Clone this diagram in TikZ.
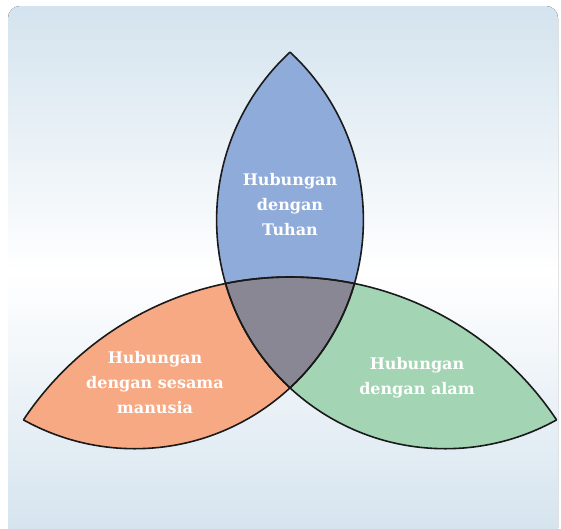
\documentclass[tikz,border=0pt]{standalone}
\usepackage{fontspec}
\setmainfont{DejaVu Serif}

\definecolor{bgblue}{HTML}{D4E3EE}
\definecolor{tuhan}{HTML}{8FABDA}
\definecolor{manusia}{HTML}{F7A983}
\definecolor{alam}{HTML}{A3D4B3}
\definecolor{inti}{HTML}{8A8795}
\definecolor{rim}{HTML}{1A1A1A}

\begin{document}
\begin{tikzpicture}[x=1pt,y=-1pt,
  txt/.style={text=white,align=center,font=\bfseries\fontsize{16}{25}\selectfont}]

\useasboundingbox (0,0) rectangle (561,528);

% background card
\fill[rounded corners=12pt,top color=bgblue,bottom color=bgblue,middle color=white]
  (8,6) rectangle (558,540);

\def\cA{(134.7,220) circle[radius=228.7pt]}
\def\cB{(445.3,220) circle[radius=228.7pt]}
\def\cC{(290,597) circle[radius=320pt]}

\newcommand{\lens}[3] % [colour][circle][circle]
{
 \begin{scope}
  \clip #2;
  \fill[#1] #3;
 \end{scope}
}
\newcommand{\edge}[2] % [clip circle][drawn circle]
{
 \begin{scope}
  \clip #1;
  \draw[rim,line width=1.6pt] #2;
 \end{scope}
}

\lens{tuhan}{\cA}{\cB}
\lens{manusia}{\cA}{\cC}
\lens{alam}{\cB}{\cC}

\begin{scope} %centre
 \clip \cA;
 \clip \cB;
 \fill[inti] \cC;
\end{scope}

\edge{\cA}{\cB}
\edge{\cB}{\cA}
\edge{\cA}{\cC}
\edge{\cC}{\cA}
\edge{\cB}{\cC}
\edge{\cC}{\cB}

\node[txt] (tuhanT) at (290,205) {Hubungan\\dengan\\Tuhan};
\node[txt] (manusiaT) at (155,383) {Hubungan\\dengan sesama\\manusia};
\node[txt] (alamT) at (417,378) {Hubungan\\dengan alam};

\end{tikzpicture}
\end{document}
